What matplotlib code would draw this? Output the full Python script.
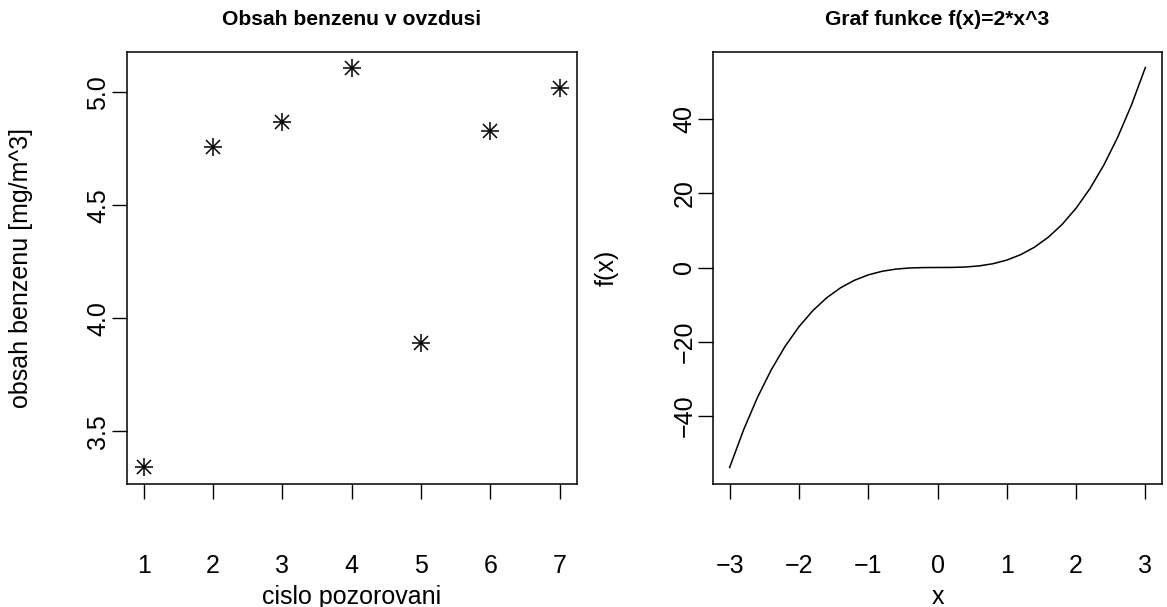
import matplotlib
matplotlib.use("Agg")
import matplotlib.pyplot as plt

# ---- data ----
obs_index = [1, 2, 3, 4, 5, 6, 7]
benzene = [3.34, 4.76, 4.87, 5.11, 3.89, 4.83, 5.02]

curve_x = [-3.0, -2.8, -2.6, -2.4, -2.2, -2.0, -1.8, -1.6, -1.4, -1.2, -1.0,
           -0.8, -0.6, -0.4, -0.2, 0.0, 0.2, 0.4, 0.6, 0.8, 1.0, 1.2, 1.4,
           1.6, 1.8, 2.0, 2.2, 2.4, 2.6, 2.8, 3.0]
curve_y = [-54.0, -43.9, -35.15, -27.65, -21.3, -16.0, -11.66, -8.19, -5.49,
           -3.46, -2.0, -1.02, -0.43, -0.13, -0.02, 0.0, 0.02, 0.13, 0.43,
           1.02, 2.0, 3.46, 5.49, 8.19, 11.66, 16.0, 21.3, 27.65, 35.15,
           43.9, 54.0]

left_yticks = [3.5, 4.0, 4.5, 5.0]
right_xticks = [-3, -2, -1, 0, 1, 2, 3]
right_yticks = [-40, -20, 0, 20, 40]

plt.rcParams['font.family'] = ['Liberation Sans', 'DejaVu Sans']

W, H = 1167, 607
fig = plt.figure(figsize=(W / 100, H / 100), dpi=100)

box_top, box_bot = 51.5, 483.5
ax1 = fig.add_axes([127 / W, 1 - box_bot / H, (576.5 - 127) / W, (box_bot - box_top) / H])
ax2 = fig.add_axes([713 / W, 1 - box_bot / H, (1162 - 713) / W, (box_bot - box_top) / H])

TICK_FS = 18
LAB_FS = 18
TITLE_FS = 15.2


def r_pad(lo, hi):
    d = (hi - lo) * 0.04
    return lo - d, hi + d


def style(ax):
    for s in ax.spines.values():
        s.set_linewidth(1.1)
        s.set_color('black')
    ax.tick_params(direction='out', length=10.5, width=1.0, labelsize=TICK_FS,
                   color='black')
    ax.tick_params(axis='x', pad=40)
    ax.tick_params(axis='y', pad=1.5)
    for lab in ax.get_yticklabels():
        lab.set_rotation(90)
        lab.set_va('center')


# left panel
ax1.plot(obs_index, benzene, linestyle='none', marker='+', markersize=13,
         markeredgewidth=1.1, color='black')
ax1.plot(obs_index, benzene, linestyle='none', marker='x', markersize=9.5,
         markeredgewidth=1.1, color='black')
ax1.set_xlim(*r_pad(min(obs_index), max(obs_index)))
ax1.set_ylim(*r_pad(min(benzene), max(benzene)))
ax1.set_xticks(obs_index)
ax1.set_yticks(left_yticks)
ax1.set_yticklabels([f"{v:.1f}" for v in left_yticks])
style(ax1)
ax1.set_xlabel("cislo pozorovani", fontsize=LAB_FS, labelpad=5)
ax1.set_ylabel("obsah benzenu [mg/m^3]", fontsize=LAB_FS, labelpad=38.5)
ax1.set_title("Obsah benzenu v ovzdusi", fontsize=TITLE_FS, fontweight='bold', pad=19)

# right panel
ax2.plot(curve_x, curve_y, color='black', linewidth=1.1)
ax2.set_xlim(*r_pad(min(curve_x), max(curve_x)))
ax2.set_ylim(*r_pad(min(curve_y), max(curve_y)))
ax2.set_xticks(right_xticks)
ax2.set_xticklabels([str(v).replace('-', '\u2212') for v in right_xticks])
ax2.set_yticks(right_yticks)
ax2.set_yticklabels([str(v).replace('-', '\u2212') for v in right_yticks])
style(ax2)
ax2.set_xlabel("x", fontsize=LAB_FS, labelpad=5)
ax2.set_ylabel("f(x)", fontsize=LAB_FS, labelpad=38.5)
ax2.set_title("Graf funkce f(x)=2*x^3", fontsize=TITLE_FS, fontweight='bold', pad=19)

fig.savefig("out.png", dpi=100)
